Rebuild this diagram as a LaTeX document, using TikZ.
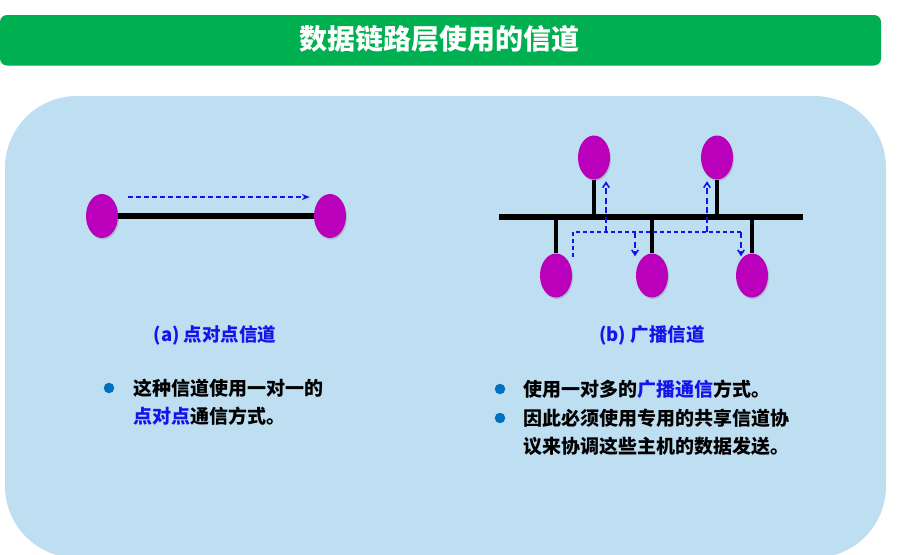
\documentclass[tikz,border=0pt]{standalone}
\usepackage{fontspec}
\setmainfont{Noto Sans CJK SC}
\usetikzlibrary{shapes.geometric,arrows.meta,shadows}
\definecolor{bargreen}{RGB}{0,176,80}
\definecolor{panelblue}{RGB}{190,222,242}
\definecolor{hostc}{RGB}{187,0,187}
\definecolor{txtblue}{RGB}{20,20,235}
\definecolor{dashc}{RGB}{20,20,240}
\definecolor{bulletc}{RGB}{0,112,192}
\tikzset{
  host/.style={ellipse, fill=hostc, minimum width=32pt, minimum height=44pt, inner sep=0pt,
    drop shadow={opacity=0.35, shadow xshift=1pt, shadow yshift=-1.5pt}},
  wire/.style={line width=6pt, black},
  stem/.style={line width=3.5pt, black},
  dasharrow/.style={dashc, line width=1.1pt, dash pattern=on 5pt off 3pt, -{Stealth[length=8pt,width=6pt,inset=2.5pt]}},
  dashline/.style={dashc, line width=1.2pt, dash pattern=on 4pt off 3pt},
  dasharrowb/.style={dashc, line width=1.6pt, dash pattern=on 6pt off 3.5pt, -{Straight Barb[length=5pt,width=6.5pt]}},
  txt/.style={anchor=west, inner sep=0pt, font=\fontsize{19pt}{23pt}\selectfont\bfseries},
  capt/.style={inner sep=0pt, text=txtblue, font=\fontsize{18.5pt}{22pt}\selectfont\bfseries},
  bullet/.style={circle, fill=bulletc, minimum size=10.5pt, inner sep=0pt}
}
\begin{document}
\begin{tikzpicture}[x=1pt,y=-1pt]
\useasboundingbox (0,0) rectangle (904,554);
\fill[white] (0,0) rectangle (904,554);
\begin{scope}
  \clip (0,0) rectangle (904,554);
  \fill[panelblue, rounded corners=72pt] (5,96) rectangle (886,558);
\end{scope}
% banner
\fill[bargreen, rounded corners=7pt] (0,15) rectangle (881,65.5);
\node[text=white, inner sep=0pt, font=\fontsize{28pt}{30pt}\selectfont\bfseries] (title) at (439,39) {数据链路层使用的信道};

% (a) point to point
\node[host] (a1) at (102,216) {};
\node[host] (a2) at (330,216) {};
\draw[wire] (a1) -- (a2);
\coordinate (as) at (128,197);
\draw[dasharrow, shorten >=4pt] (as) -- (as -| a2.west);

% (b) broadcast
\coordinate (busL) at (499,217);
\coordinate (busR) at (803,217);
\node[host] (t1) at (594,157.5) {};
\node[host] (t2) at (717,157.5) {};
\node[host] (b1) at (556,275.5) {};
\node[host] (b2) at (652,275.5) {};
\node[host] (b3) at (752,275.5) {};
\draw[stem] (t1) -- (t1 |- busL);
\draw[stem] (t2) -- (t2 |- busL);
\draw[stem] (b1) -- (b1 |- busL);
\draw[stem] (b2) -- (b2 |- busL);
\draw[stem] (b3) -- (b3 |- busL);
\draw[wire] (busL) -- (busR);

\coordinate (d0) at (573,257);
\coordinate (d1) at (573,232);
\coordinate (d2) at (741,232);
\draw[dashline] (d0) -- (d1) -- (d2);
\coordinate (u1) at (606,232);
\coordinate (u2) at (707,232);
\coordinate (w1) at (635,232);
\coordinate (w2) at (741,232);
\draw[dasharrowb, shorten >=1.5pt] (u1) -- (u1 |- t1.south);
\draw[dasharrowb, shorten >=1.5pt] (u2) -- (u2 |- t2.south);
\draw[dasharrowb, shorten >=-3pt] (w1) -- (w1 |- b2.north);
\draw[dasharrowb, shorten >=-3pt] (w2) -- (w2 |- b3.north);

% captions
\node[capt] (capa) at (215,335) {(a) 点对点信道};
\node[capt] (capb) at (652,335) {(b) 广播信道};

% bullets (a)
\node[bullet] (ba) at (109,388) {};
\node[txt] (la1) at (133,388) {这种信道使用一对一的};
\node[txt] (la2) at (133,416) {\textcolor{txtblue}{点对点}通信方式。};

% bullets (b)
\node[bullet] (bb1) at (500,389) {};
\node[bullet] (bb2) at (500,418) {};
\node[txt] (lb1) at (523,389) {使用一对多的\textcolor{txtblue}{广播通信}方式。};
\node[txt] (lb2) at (523,418) {因此必须使用专用的共享信道协};
\node[txt] (lb3) at (523,446) {议来协调这些主机的数据发送。};
\end{tikzpicture}
\end{document}
